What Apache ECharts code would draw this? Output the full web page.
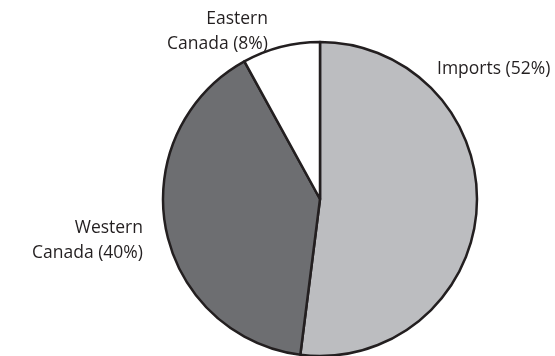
<!DOCTYPE html>
<html>
<head>
<meta charset="utf-8">
<script src="https://cdn.jsdelivr.net/npm/echarts@6/dist/echarts.min.js"></script>
<style>
  html, body { margin: 0; padding: 0; background: #fff; }
  #chart { width: 555px; height: 356px; }
</style>
</head>
<body>
<div id="chart"></div>
<script>
// Crude oil supply sources, share of total (%)
const categories = ['Imports', 'Western\nCanada', 'Eastern\nCanada'];
const shares = [52, 40, 8];
const sliceColors = ['#bcbdc0', '#6d6e71', '#ffffff'];

// Where each label sits (x, y, alignment)
const labelSpots = [
  { x: 437, y: 69, align: 'left' },
  { x: 143, y: 241, align: 'right' },
  { x: 268, y: 32, align: 'right' }
];

const chart = echarts.init(document.getElementById('chart'));
chart.setOption({
  animation: false,
  series: [{
    type: 'pie',
    center: [320, 199],
    radius: [0, 157],
    startAngle: 90,
    clockwise: true,
    data: categories.map((name, i) => ({
      name: name,
      value: shares[i],
      itemStyle: { color: sliceColors[i] }
    })),
    itemStyle: { borderColor: '#231f20', borderWidth: 2.5 },
    label: {
      show: true,
      position: 'outside',
      formatter: p => p.name + ' (' + p.value + '%)',
      fontFamily: 'Open Sans',
      fontSize: 17.5,
      lineHeight: 25,
      color: '#231f20',
      overflow: 'none',
      width: 200
    },
    labelLine: { show: false },
    labelLayout: function (params) {
      const s = labelSpots[params.dataIndex];
      return { x: s.x, y: s.y, align: s.align, verticalAlign: 'middle' };
    },
    emphasis: { disabled: true }
  }]
});
</script>
</body>
</html>
